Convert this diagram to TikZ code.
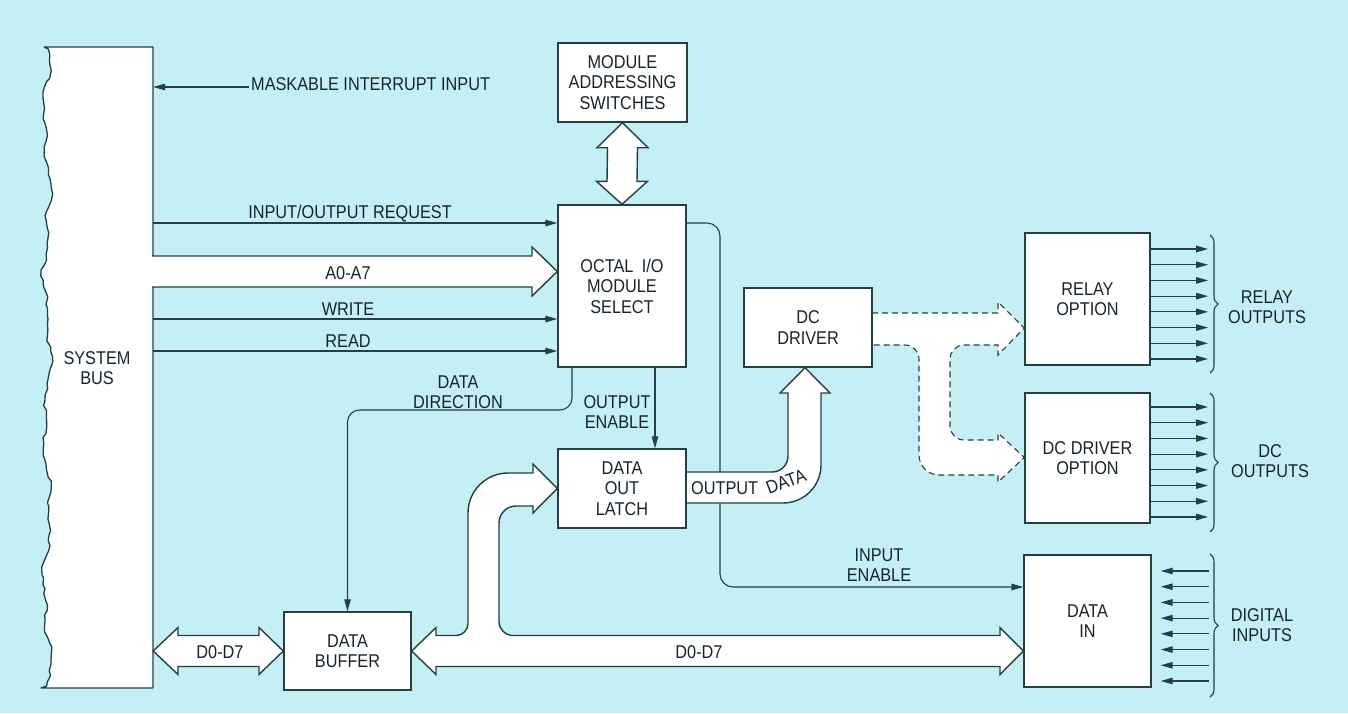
\documentclass[tikz,border=0pt]{standalone}
\usepackage{fontspec}
\setmainfont{Liberation Sans}[FakeStretch=0.88]
\usetikzlibrary{arrows.meta,decorations.pathreplacing,decorations.pathmorphing,calc}
\definecolor{bgc}{RGB}{196,239,244}
\definecolor{ln}{RGB}{38,62,70}
\definecolor{tx}{RGB}{24,36,44}
\newcommand\labfont{\fontsize{18.5}{20.5}\selectfont}
\pgfdeclarelayer{bgl}
\pgfdeclarelayer{sigl}
\pgfdeclarelayer{fatl}
\pgfsetlayers{bgl,sigl,fatl,main}
\begin{document}
\begin{tikzpicture}[x=1pt,y=-1pt, font=\labfont, text=tx,
  blk/.style={draw=ln, fill=white, line width=1.4pt, align=center, inner sep=0pt},
  sig/.style={draw=ln, line width=1.1pt, -{Triangle[length=12pt,width=6.5pt]}},
  fat/.style={draw=ln, fill=white, line width=1.4pt, line join=miter},
  dfat/.style={draw=ln, fill=white, line width=1.1pt, dash pattern=on 6pt off 4pt},
  lab/.style={align=center, inner sep=0pt},
  brc/.style={draw=ln, line width=1.1pt, decorate, decoration={brace, amplitude=8pt}},
]
\pgfmathsetseed{12}
\useasboundingbox (0,0) rectangle (1348,713);
\begin{pgfonlayer}{bgl}
  \fill[bgc] (0,0) rectangle (1348,713);
\end{pgfonlayer}

% ---------- blocks ----------
\node[lab, minimum width=112pt, minimum height=641pt] (bus) at (97,368) {SYSTEM\\BUS};
\node[blk, minimum width=129pt, minimum height=79pt] (mod) at (622.5,82.5) {MODULE\\ADDRESSING\\SWITCHES};
\node[blk, minimum width=128pt, minimum height=162pt] (oct) at (622,286) {OCTAL\hspace{0.45em}I/O\\MODULE\\SELECT};
\node[blk, minimum width=128pt, minimum height=79pt] (dcd) at (808,327.5) {DC\\DRIVER};
\node[blk, minimum width=128pt, minimum height=79pt] (lat) at (622,488.5) {DATA\\OUT\\LATCH};
\node[blk, minimum width=127pt, minimum height=78pt] (buf) at (347.5,651) {DATA\\BUFFER};
\node[blk, minimum width=125pt, minimum height=132pt] (rel) at (1087.5,299) {RELAY\\OPTION};
\node[blk, minimum width=125pt, minimum height=130pt] (dco) at (1087.5,458) {DC DRIVER\\OPTION};
\node[blk, minimum width=127pt, minimum height=132pt] (din) at (1087.5,621) {DATA\\IN};

% ---------- helper coordinates ----------
\coordinate (ymas) at (0,87);
\coordinate (yio) at (0,223);
\coordinate (ya) at (0,271.5);
\coordinate (ywr) at (0,319);
\coordinate (yrd) at (0,351);
\coordinate (xdd) at (572,0);
\coordinate (ydd) at (0,410);
\coordinate (xoe) at (655,0);
\coordinate (xie) at (720,0);
\coordinate (yie) at (0,587);

% ---------- fat buses ----------
\begin{pgfonlayer}{fatl}
  % system bus outline with torn left edge
  \draw[ln, line width=1.3pt, fill=white, line join=round] (153,47) -- (153,688) -- (41,688)
    decorate[decoration={random steps, segment length=5pt, amplitude=1.6pt}]
    { -- plot[domain=686:49, samples=60, variable=\t] ({47+3*sin(\t*2.3)+2.2*sin(\t*6.1+30)+1.2*sin(\t*11.3)}, \t) }
    -- (44,47) -- cycle;
  % A0-A7
  \draw[fat] (152,256) -- (532,256) -- (532,247) -- (oct.west |- ya) -- (532,296) -- (532,287) -- (152,287);
  % module addressing double arrow
  \draw[fat] (mod.south) -- ++(-25.5,25) -- ++(10.5,0) -- ($(oct.north)+(-15,-23)$) -- ++(-10.5,0)
    -- (oct.north) -- ++(25.5,-23) -- ++(-10.5,0) -- ($(mod.south)+(15,25)$) -- ++(10.5,0) -- cycle;
  % left D0-D7 double arrow
  \draw[fat] (bus.east |- buf.east) -- (178,627.5) -- (178,635.5) -- (259,635.5) -- (259,627.5) -- (buf.west)
    -- (259,674.5) -- (259,666.5) -- (178,666.5) -- (178,674.5) -- cycle;
  % data bus D0-D7 with branch to latch
  \draw[fat] (buf.east) -- (436,627.5) -- (436,635.5) -- (456,635.5)
    .. controls (462.6,635.5) and (468,630.1) .. (468,623.5) -- (468,513)
    .. controls (468,490.9) and (485.9,473) .. (508,473) -- (533,473) -- (533,464)
    -- (lat.west) -- (533,513) -- (533,506) -- (516,506)
    .. controls (506.6,506) and (499,513.6) .. (499,523) -- (499,621.5)
    .. controls (499,629.2) and (505.3,635.5) .. (513,635.5) -- (1000,635.5) -- (1000,627.5)
    -- (din.west |- buf.east) -- (1000,674.5) -- (1000,666.5) -- (436,666.5) -- (436,674.5) -- cycle;
  % output data
  \draw[fat] (686,472) -- (772,472) .. controls (781,472) and (788,465) .. (788,456)
    -- (788,393) -- (780,393) -- (dcd.south -| 805,0) -- (830,393) -- (821,393) -- (821,465)
    .. controls (821,486) and (804,503) .. (783,503) -- (686,503);
  % dashed option buses
  \draw[dfat] (872,313) -- (998,313) -- (998,302) -- (rel.west |- 0,328) -- (998,355) -- (998,345) -- (964,345)
    .. controls (956.3,345) and (950,351.3) .. (950,359) -- (950,426)
    .. controls (950,433.7) and (956.3,440) .. (964,440) -- (998,440) -- (998,433)
    -- (dco.west |- 0,457.5) -- (998,482) -- (998,475) -- (939,475)
    .. controls (928,475) and (919,466) .. (919,455) -- (919,359)
    .. controls (919,351.3) and (912.7,345) .. (905,345) -- (872,345);
\end{pgfonlayer}

% ---------- signal lines ----------
\node[lab, anchor=base west] (mas) at (251,90.5) {MASKABLE INTERRUPT INPUT};
\draw[sig] ($(mas.west |- ymas)+(-2,0)$) -- (bus.east |- ymas);

\draw[sig] (bus.east |- yio) -- (oct.west |- yio);
\node[lab, anchor=base] (lio) at (350,218) {INPUT/OUTPUT REQUEST};
\node[lab, anchor=base] (la) at (348,279.5) {A0-A7};
\draw[sig] (bus.east |- ywr) -- (oct.west |- ywr);
\node[lab, anchor=base] (lwr) at (348,315) {WRITE};
\draw[sig] (bus.east |- yrd) -- (oct.west |- yrd);
\node[lab, anchor=base] (lrd) at (348,347) {READ};

\draw[sig, rounded corners=12pt] (oct.south -| xdd) |- (buf.north |- ydd) -- (buf.north);
\node[lab] (ldd) at (458,392) {DATA\\DIRECTION};

\draw[sig] (oct.south -| xoe) -- (lat.north -| xoe);
\node[lab] (loe) at (617,412) {OUTPUT\\ENABLE};

\begin{pgfonlayer}{sigl}
  \draw[sig, rounded corners=13pt] (oct.east |- yio) -| (xie |- yie) -- (din.west |- yie);
\end{pgfonlayer}
\node[lab] (lie) at (879,565) {INPUT\\ENABLE};

% OUTPUT DATA, bending with the bus
\node[lab, anchor=base west] (od1) at (691,494) {OUTPUT};
\node[lab, anchor=base west, rotate=21] (od2) at (769,495) {DATA};

\node[lab, anchor=base] (ld1) at (220,658.5) {D0-D7};
\node[lab, anchor=base] (ld2) at (699,658.5) {D0-D7};

% ---------- outputs / inputs ----------
\foreach \i in {0,...,7} {
  \coordinate (ro\i) at (1208,{249+\i*15.71});
  \draw[sig] (rel.east |- ro\i) -- (ro\i);
  \coordinate (do\i) at (1208,{407+\i*15.71});
  \draw[sig] (dco.east |- do\i) -- (do\i);
  \coordinate (di\i) at (1209,{571+\i*15.71});
  \draw[sig] (di\i) -- ($(din.east |- di\i)+(9,0)$);
}
\draw[brc] (1210,235) -- (1210,373);
\draw[brc] (1210,393) -- (1210,532);
\draw[brc] (1210,554) -- (1210,697);
\node[lab] (lro) at (1267,307) {RELAY\\OUTPUTS};
\node[lab] (ldo) at (1270,461) {DC\\OUTPUTS};
\node[lab] (ldi) at (1262,625) {DIGITAL\\INPUTS};
\end{tikzpicture}
\end{document}
